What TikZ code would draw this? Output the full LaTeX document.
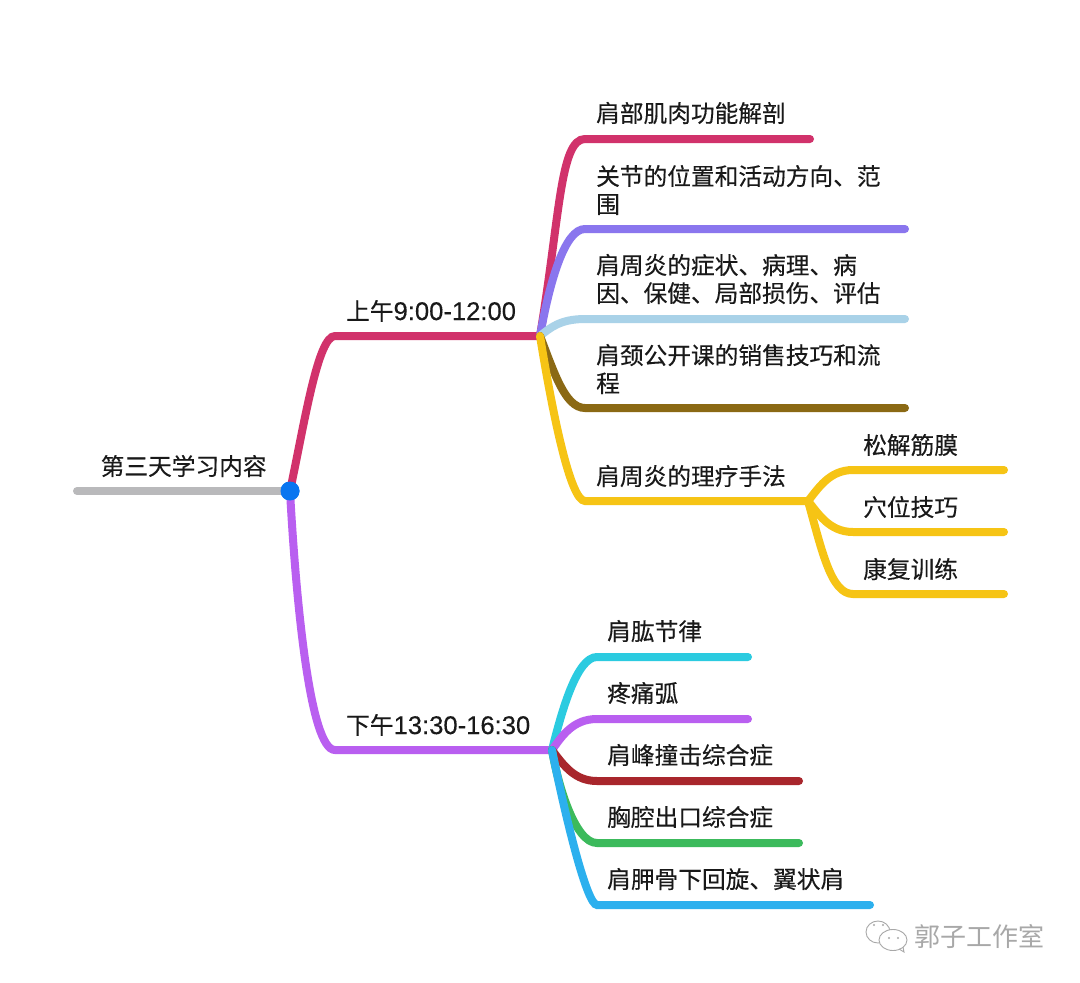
\documentclass[tikz,border=0pt]{standalone}
\usepackage{fontspec}
\setmainfont[FakeBold=0.25]{Noto Sans CJK SC}
\newfontfamily\digitface[FakeBold=0.25]{Liberation Sans}
\newfontfamily\markface{Noto Sans CJK SC}
\usepackage{xcolor}
\definecolor{rootgray}{HTML}{B9B9BB}
\definecolor{dotblue}{HTML}{0A76F0}
\definecolor{rosered}{HTML}{D1326B}
\definecolor{mauve}{HTML}{B95FF0}
\definecolor{violet2}{HTML}{8A76EE}
\definecolor{paleblue}{HTML}{A9D2E8}
\definecolor{umber}{HTML}{8B6914}
\definecolor{amber}{HTML}{F6C415}
\definecolor{aqua}{HTML}{2BCBE0}
\definecolor{brick}{HTML}{A8262C}
\definecolor{leaf}{HTML}{3CBA5C}
\definecolor{sky}{HTML}{2CB0EE}
\definecolor{markgray}{gray}{0.66}
\tikzset{
  twig/.style={line width=8pt,line cap=round},
  leaftext/.style={anchor=west,inner sep=0pt,align=left,font=\fontsize{23.7}{28}\selectfont,text=black!90},
}
\newcommand{\clock}[1]{{\digitface\fontsize{25.6}{28}\selectfont #1}}

\begin{document}
\begin{tikzpicture}[x=1pt,y=-1pt]
\useasboundingbox (0,0) rectangle (1080,983);
\fill[white] (0,0) rectangle (1080,983);
% hubs and knees
\coordinate (start) at (77,491);
\coordinate (amknee) at (335,336);
\coordinate (amhub) at (540,336);
\coordinate (pmknee) at (335,750);
\coordinate (pmhub) at (552,750);
\coordinate (fivehub) at (808,501);
\node[circle,fill=dotblue,inner sep=0pt,minimum size=19pt] (root) at (290,491) {};
% texts
\node[leaftext] (roottext) at (100.5,466) {第三天学习内容};
\node[leaftext] (amtext) at (346,311) {上午\clock{9:00-12:00}};
\node[leaftext] (pmtext) at (346,725) {下午\clock{13:30-16:30}};
\node[leaftext] (a1) at (596,113) {肩部肌肉功能解剖};
\node[leaftext] (a2) at (596,190) {关节的位置和活动方向、范\\围};
\node[leaftext] (a3) at (596,279) {肩周炎的症状、病理、病\\因、保健、局部损伤、评估};
\node[leaftext] (a4) at (596,369) {肩颈公开课的销售技巧和流\\程};
\node[leaftext] (a5) at (596,476) {肩周炎的理疗手法};
\node[leaftext] (c1) at (863,445) {松解筋膜};
\node[leaftext] (c2) at (863,507) {穴位技巧};
\node[leaftext] (c3) at (863,569) {康复训练};
\node[leaftext] (p1) at (607,631) {肩肱节律};
\node[leaftext] (p2) at (607,693) {疼痛弧};
\node[leaftext] (p3) at (607,755) {肩峰撞击综合症};
\node[leaftext] (p4) at (607,817) {胸腔出口综合症};
\node[leaftext] (p5) at (607,879) {肩胛骨下回旋、翼状肩};
% morning
\draw[twig,draw=rootgray] (start) -- (root.center);
\draw[twig,draw=rosered] (root.center) .. controls +(15,-71) and +(-17,0) .. (amknee) -- (amhub);
\draw[twig,draw=rosered] (amhub) .. controls +(20,-120) and +(-25,0) .. (585,139) -- (810,139);
\draw[twig,draw=violet2] (amhub) .. controls +(10,-56) and +(-20,0) .. (585,229) -- (905,229);
\draw[twig,draw=paleblue] (amhub) .. controls +(10,-8) and +(-25,0) .. (585,319) -- (905,319);
\draw[twig,draw=umber] (amhub) .. controls +(14,36) and +(-20,0) .. (585,408) -- (905,408);
\draw[twig,draw=amber] (amhub) .. controls +(12,74) and +(-15,0) .. (585,501) -- (fivehub);
\draw[twig,draw=amber] (fivehub) .. controls +(10,-12) and +(-24,0) .. (853,470) -- (1004,470);
\draw[twig,draw=amber] (fivehub) .. controls +(10,12) and +(-24,0) .. (853,532) -- (1004,532);
\draw[twig,draw=amber] (fivehub) .. controls +(14,50) and +(-22,0) .. (853,594) -- (1004,594);
% afternoon
\draw[twig,draw=mauve] (root.center) .. controls +(6,110) and +(-25,0) .. (pmknee) -- (pmhub);
\draw[twig,draw=aqua] (pmhub) .. controls +(10,-40) and +(-20,0) .. (597,657) -- (748,657);
\draw[twig,draw=mauve] (pmhub) .. controls +(10,-14) and +(-24,0) .. (597,719) -- (748,719);
\draw[twig,draw=brick] (pmhub) .. controls +(12,16) and +(-22,0) .. (597,781) -- (799,781);
\draw[twig,draw=leaf] (pmhub) .. controls +(6,35) and +(-22,0) .. (597,843) -- (799,843);
\draw[twig,draw=sky] (pmhub) .. controls +(14,70) and +(-10,0) .. (597,905) -- (870,905);
\node[circle,fill=dotblue,inner sep=0pt,minimum size=19pt] at (root) {};
% corner mark
\draw[draw=markgray,line width=0.9pt,fill=white] (878,932) ellipse (12pt and 11pt);
\draw[draw=markgray,line width=0.9pt,fill=white] (893,940) ellipse (14pt and 10.5pt);
\draw[draw=markgray,line width=0.9pt] (899,949) -- (904,952) -- (903,947);
\fill[markgray] (889,938) circle (1.2pt) (898,938) circle (1.2pt) (874,925) circle (1.2pt) (883,925) circle (1.2pt);
\node[anchor=west,inner sep=0pt,font=\markface\fontsize{26}{30}\selectfont,text=markgray] (marktext) at (914,936) {郭子工作室};
\end{tikzpicture}
\end{document}
